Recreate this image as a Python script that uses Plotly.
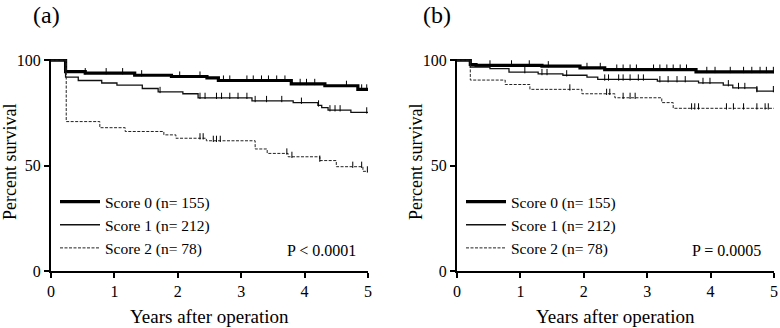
import plotly.graph_objects as go
import numpy as np

# ---------------- data ----------------
labels = ["Score 0 (n= 155)", "Score 1 (n= 212)", "Score 2 (n= 78)"]

# Panel (a): event times (years) and survival (%) after each step
a0_t = [0.23, 0.54, 1.32, 1.90, 2.46, 2.64, 3.79, 4.32, 4.84]
a0_s = [94.6, 93.9, 92.9, 92.3, 91.6, 90.4, 88.8, 87.9, 86.2]
a1_t = [0.23, 0.43, 0.80, 1.04, 1.44, 1.69, 2.08, 2.32, 3.17, 3.82, 4.21, 4.27, 4.37, 4.73]
a1_s = [92.0, 90.4, 89.2, 88.2, 86.6, 85.0, 84.1, 82.2, 80.7, 79.9, 78.6, 77.5, 76.3, 75.3]
a2_t = [0.24, 0.77, 1.17, 1.78, 1.97, 2.45, 3.22, 3.41, 3.74, 4.24, 4.50, 4.92]
a2_s = [70.9, 68.0, 66.2, 64.6, 63.0, 61.8, 57.9, 55.8, 54.2, 52.4, 49.5, 47.3]

a0_c = [0.54, 0.87, 1.13, 1.43, 2.03, 2.35, 2.72, 2.82, 3.09, 3.19, 3.32, 3.43, 3.56,
        3.69, 3.93, 4.03, 4.16, 4.66, 4.90, 4.98]
a1_c = [1.72, 2.35, 2.43, 2.61, 2.69, 2.82, 2.95, 3.09, 3.22, 3.40, 3.64, 3.95, 4.22,
        4.40, 4.48, 4.56, 4.98]
a2_c = [2.35, 2.40, 2.56, 2.61, 2.67, 3.72, 3.80, 4.24, 4.76, 4.90, 4.99]

# Panel (b)
b0_t = [0.21, 0.30, 1.34, 1.94, 2.33, 3.77]
b0_s = [98.0, 97.6, 97.2, 96.4, 95.6, 94.5]
b1_t = [0.21, 0.52, 0.82, 1.28, 1.67, 2.05, 2.22, 3.16, 3.81, 4.20, 4.35, 4.73]
b1_s = [96.8, 96.0, 94.4, 93.5, 92.9, 92.0, 90.9, 90.1, 89.3, 88.2, 86.9, 85.4]
b2_t = [0.21, 0.76, 1.15, 1.97, 2.49, 3.23, 3.41]
b2_s = [90.6, 88.5, 86.2, 84.1, 82.2, 79.9, 77.2]

b0_c = [0.52, 0.86, 1.14, 1.44, 2.05, 2.26, 2.52, 2.62, 2.73, 2.83, 3.10, 3.20, 3.31,
        3.41, 3.52, 3.62, 3.94, 4.07, 4.31, 4.52, 4.65, 4.78, 4.88, 4.99]
b1_c = [1.07, 1.34, 1.42, 1.73, 2.33, 2.39, 2.55, 2.62, 2.73, 2.86, 2.94, 3.20, 3.33,
        3.47, 3.60, 3.88, 3.99, 4.28, 4.44, 4.54, 4.73, 4.99]
b2_c = [1.78, 2.36, 2.41, 2.62, 2.73, 2.81, 3.70, 3.75, 3.81, 4.25, 4.36, 4.52, 4.73,
        4.86, 4.91]

p_texts = ["P < 0.0001", "P = 0.0005"]
x_ticks = [0, 1, 2, 3, 4, 5]
y_ticks = [0, 50, 100]
x_max = 5

# ---------------- styling ----------------
FONT = "Liberation Serif"
styles = [dict(color="black", width=3.2),
          dict(color="#111", width=1.3),
          dict(color="#222", width=1.0, dash="3px,1.5px")]

fig = go.Figure()


def step_xy(times, surv):
    xs = [0.0] + list(times) + [x_max]
    ys = [100.0] + list(surv) + [surv[-1]]
    return xs, ys


def surv_at(times, surv, c):
    val = 100.0
    for t, s in zip(times, surv):
        if c >= t:
            val = s
    return val


panels = [
    ("x", "y", "legend", [(a0_t, a0_s, a0_c), (a1_t, a1_s, a1_c), (a2_t, a2_s, a2_c)]),
    ("x2", "y2", "legend2", [(b0_t, b0_s, b0_c), (b1_t, b1_s, b1_c), (b2_t, b2_s, b2_c)]),
]

for xa, ya, lg, series in panels:
    for i, (t, s, c) in enumerate(series):
        xs, ys = step_xy(t, s)
        fig.add_trace(go.Scatter(x=xs, y=ys, mode="lines", line_shape="hv",
                                 line=styles[i], name=labels[i], legend=lg,
                                 xaxis=xa, yaxis=ya, showlegend=True))
        cy = [surv_at(t, s, ci) + 0.9 for ci in c]
        fig.add_trace(go.Scatter(x=c, y=cy, mode="markers",
                                 marker=dict(symbol="line-ns", size=4.5,
                                             line=dict(color="black", width=1.0)),
                                 xaxis=xa, yaxis=ya, showlegend=False, cliponaxis=False))

W, H = 780, 328
xa_dom = [51 / W, 368 / W]
xb_dom = [457 / W, 774 / W]
y_dom = [(H - 271) / H, (H - 59) / H]

axis_common = dict(showgrid=False, zeroline=False, showline=True, linecolor="black",
                   linewidth=2, ticks="outside", ticklen=5, tickwidth=2, tickcolor="black",
                   automargin=False,
                   tickfont=dict(family=FONT, size=16, color="black"))

legend_common = dict(xanchor="left", yanchor="top", bgcolor="rgba(0,0,0,0)",
                     font=dict(family=FONT, size=15.5, color="black"),
                     itemwidth=40, tracegroupgap=0)

fig.update_layout(
    width=W, height=H, margin=dict(l=0, r=0, t=0, b=0, autoexpand=False),
    paper_bgcolor="white", plot_bgcolor="white",
    xaxis=dict(domain=xa_dom, range=[0, x_max], tickvals=x_ticks, anchor="y", **axis_common),
    yaxis=dict(domain=y_dom, range=[0, 100.6], tickvals=y_ticks, anchor="x", **axis_common),
    xaxis2=dict(domain=xb_dom, range=[0, x_max], tickvals=x_ticks, anchor="y2", **axis_common),
    yaxis2=dict(domain=y_dom, range=[0, 100.6], tickvals=y_ticks, anchor="x2", **axis_common),
    legend=dict(x=55 / W, y=(H - 185) / H, **legend_common),
    legend2=dict(x=461 / W, y=(H - 185) / H, **legend_common),
    showlegend=True,
)

annots = []


def add_text(px, py, text, size, angle=0, xanchor="center"):
    annots.append(dict(x=px / W, y=(H - py) / H, xref="paper", yref="paper", text=text,
                       showarrow=False, xanchor=xanchor, yanchor="middle", textangle=angle,
                       font=dict(family=FONT, size=size, color="black")))


add_text(46, 15, "(a)", 24)
add_text(437, 15, "(b)", 24)
add_text((51 + 368) / 2, 316, "Years after operation", 19)
add_text((457 + 774) / 2, 316, "Years after operation", 19)
add_text(10, 162, "Percent survival", 18, angle=-90)
add_text(416, 162, "Percent survival", 18, angle=-90)
add_text(358, 250, p_texts[0], 16, xanchor="right")
add_text(763, 250, p_texts[1], 16, xanchor="right")
fig.update_layout(annotations=annots)

fig.write_html("out.html", config={"displayModeBar": False},
               post_script="document.body.style.margin='0';"
                           "document.body.style.padding='0';"
                           "document.body.style.overflow='hidden';")
